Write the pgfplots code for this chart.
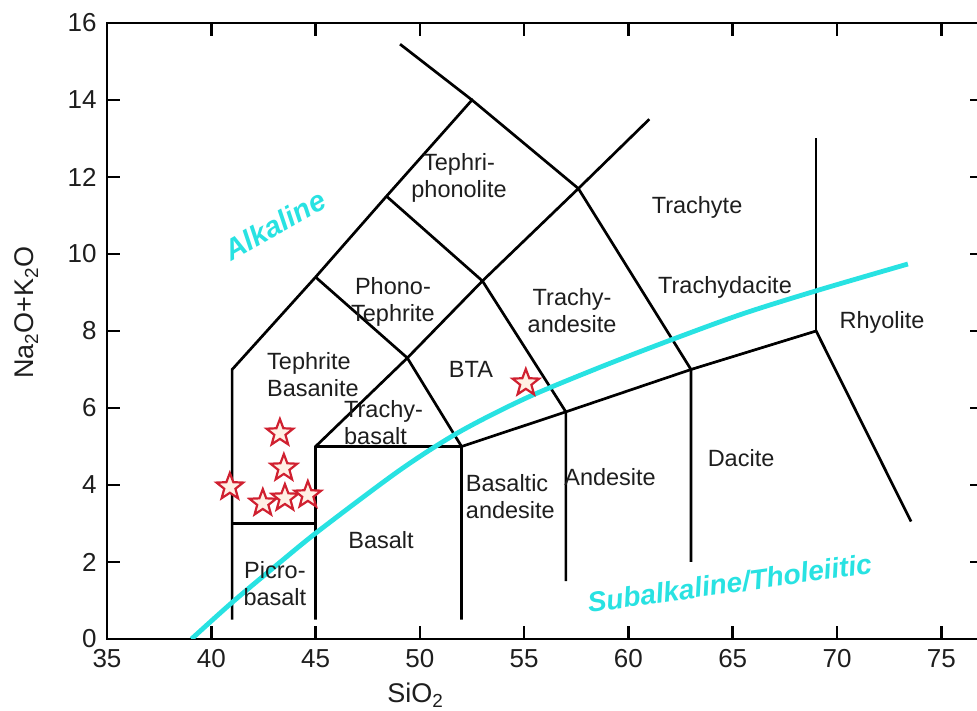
\documentclass[border=0pt]{standalone}
\usepackage{fontspec}
\setmainfont{Liberation Sans}
\usepackage{pgfplots}
\pgfplotsset{compat=1.18}

\definecolor{tascyan}{RGB}{40,226,226}
\definecolor{starred}{RGB}{208,32,48}
\definecolor{starfill}{RGB}{255,240,228}
\definecolor{txt}{RGB}{30,30,30}

% five-pointed star, outlined and filled
\pgfdeclareplotmark{fstar}{%
  \pgfpathmoveto{\pgfpointpolar{90}{\pgfplotmarksize}}%
  \pgfpathlineto{\pgfpointpolar{126}{0.42\pgfplotmarksize}}%
  \pgfpathlineto{\pgfpointpolar{162}{\pgfplotmarksize}}%
  \pgfpathlineto{\pgfpointpolar{198}{0.42\pgfplotmarksize}}%
  \pgfpathlineto{\pgfpointpolar{234}{\pgfplotmarksize}}%
  \pgfpathlineto{\pgfpointpolar{270}{0.42\pgfplotmarksize}}%
  \pgfpathlineto{\pgfpointpolar{306}{\pgfplotmarksize}}%
  \pgfpathlineto{\pgfpointpolar{342}{0.42\pgfplotmarksize}}%
  \pgfpathlineto{\pgfpointpolar{18}{\pgfplotmarksize}}%
  \pgfpathlineto{\pgfpointpolar{54}{0.42\pgfplotmarksize}}%
  \pgfpathclose
  \pgfusepathqfillstroke}

\begin{document}
\begin{tikzpicture}
\begin{axis}[
  scale only axis, width=876pt, height=616pt,
  xmin=35, xmax=77, ymin=0, ymax=16,
  xtick={35,40,...,75}, ytick={0,2,...,16},
  major tick length=13pt,
  axis line style={line width=2.7pt},
  every tick/.style={line width=2.7pt, black},
  tick label style={font=\fontsize{26}{30}\selectfont, text=txt},
  xticklabel style={yshift=-7pt},
  yticklabel style={xshift=-7pt},
  /pgf/number format/assume math mode=true,
  xlabel={SiO\textsubscript{2}},
  ylabel={Na\textsubscript{2}O+K\textsubscript{2}O},
  label style={font=\fontsize{27}{30}\selectfont, text=txt},
  xlabel style={at={(axis description cs:0.352,-0.091)}, anchor=center},
  ylabel style={at={(axis description cs:-0.092,0.53)}, anchor=center},
  region/.style={black, line width=2.7pt},
]
% field boundaries
\addplot[region] coordinates {(41,0.5) (41,7) (45,9.4) (48.4,11.5) (52.5,14) (57.6,11.7) (63,7) (63,2)};
\addplot[region] coordinates {(52.5,14) (49.05,15.45)};
\addplot[region] coordinates {(41,3) (45,3)};
\addplot[region] coordinates {(45,0.5) (45,5) (49.4,7.3) (53,9.3) (57.6,11.7) (61,13.5)};
\addplot[region] coordinates {(45,5) (52,5) (57,5.9) (63,7) (69,8) (73.55,3.05)};
\addplot[region] coordinates {(45,9.4) (49.4,7.3) (52,5) (52,0.5)};
\addplot[region] coordinates {(48.4,11.5) (53,9.3) (57,5.9) (57,1.5)};
\addplot[region] coordinates {(69,8) (69,13)};

% alkaline / subalkaline divide
\addplot[tascyan, line width=4.8pt, smooth] coordinates {
  (39.05,0) (41,0.95) (43.2,1.95) (45.2,2.83) (49.05,4.39) (51.9,5.38)
  (55.1,6.26) (58.6,7.05) (62.1,7.78) (65.5,8.45) (69.1,9.06) (73.4,9.74)};

% samples
\addplot[only marks, mark=fstar, mark size=14pt,
  mark options={draw=starred, fill=starfill, line width=2.2pt}] coordinates {
  (43.29,5.35) (43.48,4.44) (40.89,3.95) (42.47,3.53) (43.53,3.66) (44.63,3.74) (55.08,6.65)};

\coordinate (ll) at (rel axis cs:0,0);
\coordinate (ur) at (rel axis cs:1,1);

\begin{scope}[every node/.style={font=\fontsize{23.5}{27}\selectfont, text=txt, align=center, inner sep=0pt}]
\node at (axis cs:51.88,11.97) {Tephri-\\phonolite};
\node at (axis cs:63.29,11.22) {Trachyte};
\node at (axis cs:64.63,9.12) {Trachydacite};
\node at (axis cs:72.16,8.23) {Rhyolite};
\node at (axis cs:48.71,8.75) {Phono-\\Tephrite};
\node at (axis cs:57.3,8.52) {Trachy-\\andesite};
\node[anchor=west, align=left] at (axis cs:42.67,6.88) {Tephrite\\Basanite};
\node at (axis cs:52.45,6.99) {BTA};
\node[anchor=west, align=left] at (axis cs:46.36,5.61) {Trachy-\\basalt};
\node[anchor=west, align=left] at (axis cs:52.2,3.69) {Basaltic\\andesite};
\node at (axis cs:59.12,4.21) {Andesite};
\node at (axis cs:65.4,4.7) {Dacite};
\node at (axis cs:48.14,2.57) {Basalt};
\node at (axis cs:43.05,1.45) {Picro-\\basalt};
\end{scope}
\node[font=\fontsize{29}{31}\selectfont\bfseries\itshape, text=tascyan, rotate=29.5] at (axis cs:43.05,10.75) {Alkaline};
\node[font=\fontsize{28}{30}\selectfont\bfseries\itshape, text=tascyan, rotate=8] at (axis cs:64.85,1.45) {Subalkaline/Tholeiitic};
\end{axis}
\pgfresetboundingbox
\path[use as bounding box] ([xshift=-107pt,yshift=-72pt]ll) rectangle ([xshift=-6pt,yshift=23pt]ur);
\end{tikzpicture}
\end{document}
